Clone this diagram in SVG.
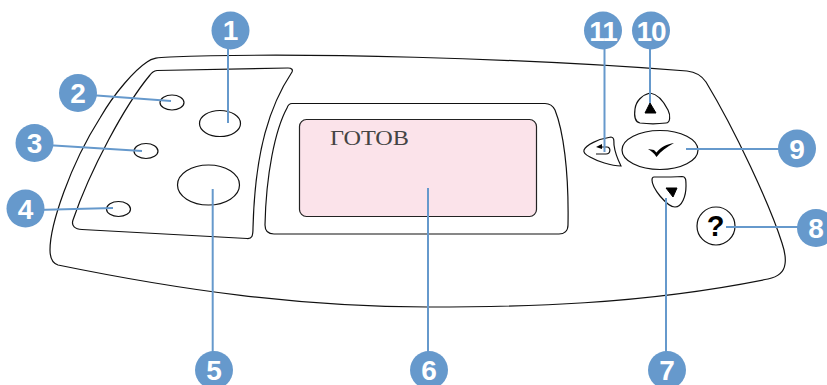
<svg xmlns="http://www.w3.org/2000/svg" width="827" height="385" viewBox="0 0 827 385">
<style>
.o{fill:none;stroke:#111;stroke-width:1.2}
.l{fill:none;stroke:#6699cc;stroke-width:2}
.b{fill:#6699cc}
.n{fill:#fff;font-family:"Liberation Sans",Arial,sans-serif;font-weight:700;font-size:28px;text-anchor:middle}
</style>
<rect width="827" height="385" fill="#fff"/>
<g id="panel">
<path class="o" d="M147 62C152 58 158 57.500 170 57C300 52 520 58 687 71C696 72 702 76 706 82C735 130 770 205 782 243C785 252 786 258 785 264C784 272 778 277 768 279C640 305 520 307 428 307C300 307 180 290 58 265C52 263 50 258 50 250C50 225 70 165 100 118C115 92 135 70 147 62Z"/>
</g>
<g id="left-panel">
<path class="o" d="M157 70.500L288 68C292 68 293 70 292 72C270 105 255 150 253 228C253 236 252 239 247 238.500L82 229.500C75 229 71 226 73 220C90 170 125 105 150 75C152 72 154 71 157 70.500Z"/>
</g>
<g id="display-bezel">
<path class="o" d="M292 103.500L545 103.500C550 103.500 553 106 555 110C563 130 569 170 568 225C568 231 564 234 559 234L274 234C268 234 265 231 265 225C266 175 275 130 287 108C288 105 290 103.500 292 103.500Z"/>
</g>
<g id="display">
<rect x="299.500" y="119.500" width="237" height="97" rx="7" fill="#fbe3ea" stroke="#222" stroke-width="1.200"/>
<text x="330" y="145" font-family="'Liberation Serif','Times New Roman',serif" font-size="22" fill="#444" textLength="79" lengthAdjust="spacingAndGlyphs">ГОТОВ</text>
</g>
<g id="led-2"><ellipse class="o" cx="172" cy="102.500" rx="12" ry="7.500"/></g>
<g id="led-3"><ellipse class="o" cx="146" cy="151" rx="12" ry="7.500"/></g>
<g id="led-4"><ellipse class="o" cx="118.500" cy="209" rx="12" ry="7.500"/></g>
<g id="button-1"><ellipse class="o" cx="220" cy="123.500" rx="20.500" ry="13"/></g>
<g id="button-5"><ellipse class="o" cx="208.500" cy="185" rx="31" ry="20"/></g>
<g id="button-up">
<path class="o" d="M650 93C657 94 663 100 668 110C671 116 670 123 666 123C658 124 648 124 640 123C635 122 634 116 635 109C636 101 642 95 650 93Z"/>
<path d="M650 103L645 113L656 113Z" fill="#000" stroke="#000" stroke-width="1"/>
</g>
<g id="button-back">
<path class="o" d="M584 150C586 145 598 139 611 137C614 137 614 140 614 145C615 153 618 160 621 166C611 166 597 161 590 157C586 155 583 153 584 150Z"/>
<path class="o" d="M596 154L606 154C611 154 611 147 607 147L600 147"/>
<path d="M596 147L602 144L602 149Z" fill="#000"/>
</g>
<g id="button-ok">
<ellipse class="o" cx="660" cy="150" rx="38" ry="19.500"/>
<path d="M648 149L654 150L656.500 152.500C661 147 667 144 674 143C667 147 661 151 656.500 157C654 153 651 151 648 149Z" fill="#000"/>
</g>
<g id="button-down">
<path class="o" d="M654 177C664 177 674 177 682 176.500C686 176.500 686 180 686 186C686 196 682 207 675 207C670 207 665 202 660 196C656 191 652 185 652 180C652 178 653 177 654 177Z"/>
<path d="M666 188L677 188L673 197Z" fill="#000" stroke="#000" stroke-width="1"/>
</g>
<g id="button-help">
<circle class="o" cx="716" cy="226" r="19"/>
<text x="715.500" y="236" font-family="'Liberation Sans',Arial,sans-serif" font-weight="700" font-size="29" text-anchor="middle" fill="#000">?</text>
</g>
<g id="connectors">
<path class="l" d="M228 40V123"/>
<path class="l" d="M90 95L171 101"/>
<path class="l" d="M46 145L142 151"/>
<path class="l" d="M36 210L113 208"/>
<path class="l" d="M212.700 189V360"/>
<path class="l" d="M428 188V360"/>
<path class="l" d="M666 198V360"/>
<path class="l" d="M726 227H805"/>
<path class="l" d="M686 149H785"/>
<path class="l" d="M650 40V103"/>
<path class="l" d="M604.500 40V152"/>
</g>
<g id="callout-1"><circle class="b" cx="230.500" cy="30.500" r="19"/><text class="n" x="230.500" y="40">1</text></g>
<g id="callout-2"><circle class="b" cx="78" cy="93" r="19"/><text class="n" x="78" y="103">2</text></g>
<g id="callout-3"><circle class="b" cx="34.500" cy="143" r="19"/><text class="n" x="34.500" y="153">3</text></g>
<g id="callout-4"><circle class="b" cx="25.500" cy="208.500" r="19"/><text class="n" x="25.500" y="218.500">4</text></g>
<g id="callout-5"><circle class="b" cx="214" cy="370" r="19"/><text class="n" x="214" y="380">5</text></g>
<g id="callout-6"><circle class="b" cx="429" cy="370" r="19"/><text class="n" x="429" y="380">6</text></g>
<g id="callout-7"><circle class="b" cx="667" cy="370" r="19"/><text class="n" x="667" y="380">7</text></g>
<g id="callout-8"><circle class="b" cx="816" cy="228" r="19"/><text class="n" x="816" y="238">8</text></g>
<g id="callout-9"><circle class="b" cx="797" cy="148.500" r="19"/><text class="n" x="797" y="158.500">9</text></g>
<g id="callout-10"><circle class="b" cx="651" cy="30.500" r="19"/><text class="n" x="651" y="40.500" letter-spacing="-1">10</text></g>
<g id="callout-11"><circle class="b" cx="603" cy="30.500" r="19"/><text class="n" x="603" y="40.500" letter-spacing="-1">11</text></g>
</svg>
